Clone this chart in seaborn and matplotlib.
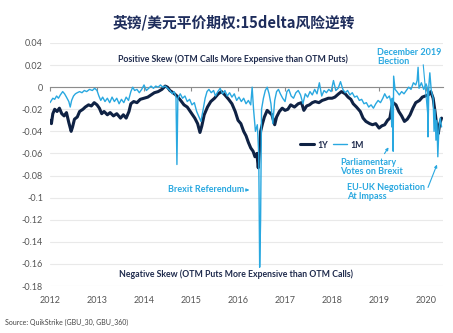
import matplotlib
matplotlib.use("Agg")
import matplotlib.pyplot as plt
import seaborn as sns
import pandas as pd

# ---------------- data (decimal year -> 15-delta risk reversal) ----------------
year_1y = [2012.00, 2012.03, 2012.06, 2012.10, 2012.15, 2012.20, 2012.25, 2012.30, 2012.35, 2012.40,
           2012.45, 2012.48, 2012.52, 2012.58, 2012.63, 2012.70, 2012.75, 2012.82, 2012.88, 2012.94,
           2013.00, 2013.05, 2013.10, 2013.15, 2013.22, 2013.28, 2013.35, 2013.42, 2013.50, 2013.56,
           2013.62, 2013.68, 2013.72, 2013.78, 2013.85, 2013.92, 2014.00, 2014.08, 2014.15, 2014.22,
           2014.30, 2014.38, 2014.45, 2014.50, 2014.55, 2014.62, 2014.70, 2014.78, 2014.85, 2014.92,
           2015.00, 2015.08, 2015.14, 2015.19, 2015.23, 2015.28, 2015.35, 2015.42, 2015.50, 2015.58,
           2015.65, 2015.72, 2015.80, 2015.87, 2015.94, 2016.00, 2016.06, 2016.12, 2016.17, 2016.22,
           2016.27, 2016.32, 2016.36, 2016.40, 2016.43, 2016.46, 2016.48, 2016.52, 2016.56, 2016.62,
           2016.67, 2016.72, 2016.78, 2016.82, 2016.88, 2016.94, 2017.00, 2017.06, 2017.12, 2017.20,
           2017.28, 2017.35, 2017.40, 2017.46, 2017.52, 2017.58, 2017.64, 2017.72, 2017.79, 2017.86,
           2017.92, 2018.00, 2018.06, 2018.14, 2018.20, 2018.28, 2018.34, 2018.40, 2018.45, 2018.52,
           2018.60, 2018.66, 2018.72, 2018.80, 2018.86, 2018.93, 2019.00, 2019.06, 2019.12, 2019.18,
           2019.23, 2019.27, 2019.30, 2019.36, 2019.42, 2019.48, 2019.54, 2019.60, 2019.66, 2019.72,
           2019.78, 2019.86, 2019.92, 2019.98, 2020.05, 2020.10, 2020.15, 2020.19, 2020.23, 2020.26,
           2020.29, 2020.33]
rr_1y = [-0.030, -0.033, -0.024, -0.020, -0.022, -0.019, -0.024, -0.026, -0.023, -0.032,
         -0.040, -0.036, -0.029, -0.027, -0.022, -0.020, -0.018, -0.016, -0.017, -0.014,
         -0.016, -0.019, -0.024, -0.022, -0.025, -0.023, -0.026, -0.024, -0.028, -0.025,
         -0.028, -0.022, -0.015, -0.013, -0.014, -0.011, -0.010, -0.009, -0.007, -0.005,
         -0.004, -0.002, 0.001, 0.000, -0.003, -0.005, -0.008, -0.012, -0.016, -0.018,
         -0.023, -0.028, -0.033, -0.041, -0.035, -0.025, -0.018, -0.013, -0.010, -0.006,
         -0.004, -0.007, -0.011, -0.015, -0.022, -0.030, -0.033, -0.040, -0.044, -0.050,
         -0.055, -0.058, -0.063, -0.060, -0.073, -0.055, -0.040, -0.033, -0.027, -0.021,
         -0.023, -0.025, -0.034, -0.027, -0.022, -0.019, -0.021, -0.020, -0.016, -0.018,
         -0.015, -0.014, -0.021, -0.017, -0.016, -0.014, -0.013, -0.014, -0.012, -0.011,
         -0.010, -0.010, -0.009, -0.006, -0.004, -0.006, -0.009, -0.011, -0.015, -0.018,
         -0.022, -0.028, -0.031, -0.033, -0.034, -0.033, -0.037, -0.035, -0.034, -0.030,
         -0.028, -0.018, -0.014, -0.016, -0.022, -0.026, -0.031, -0.029, -0.025, -0.019,
         -0.014, -0.012, -0.009, -0.008, -0.007, -0.004, -0.010, -0.022, -0.036, -0.042,
         -0.033, -0.028]

year_1m = [2012.00, 2012.03, 2012.06, 2012.10, 2012.14, 2012.18, 2012.22, 2012.27, 2012.31, 2012.35,
           2012.40, 2012.43, 2012.46, 2012.50, 2012.54, 2012.58, 2012.63, 2012.68, 2012.73, 2012.78,
           2012.84, 2012.90, 2012.95, 2013.00, 2013.04, 2013.08, 2013.12, 2013.17, 2013.22, 2013.27,
           2013.32, 2013.37, 2013.42, 2013.47, 2013.52, 2013.57, 2013.62, 2013.67, 2013.72, 2013.76,
           2013.80, 2013.85, 2013.90, 2013.95, 2014.00, 2014.05, 2014.10, 2014.15, 2014.20, 2014.25,
           2014.30, 2014.35, 2014.40, 2014.45, 2014.50, 2014.55, 2014.60, 2014.64, 2014.68, 2014.70,
           2014.72, 2014.77, 2014.82, 2014.87, 2014.92, 2014.97, 2015.02, 2015.07, 2015.12, 2015.17,
           2015.21, 2015.25, 2015.30, 2015.34, 2015.38, 2015.43, 2015.48, 2015.52, 2015.57, 2015.62,
           2015.67, 2015.72, 2015.77, 2015.82, 2015.87, 2015.92, 2015.97, 2016.02, 2016.07, 2016.12,
           2016.17, 2016.22, 2016.27, 2016.30, 2016.33, 2016.37, 2016.41, 2016.44, 2016.46, 2016.48,
           2016.50, 2016.54, 2016.58, 2016.62, 2016.66, 2016.70, 2016.74, 2016.78, 2016.82, 2016.86,
           2016.90, 2016.95, 2017.00, 2017.04, 2017.08, 2017.13, 2017.18, 2017.23, 2017.28, 2017.33,
           2017.38, 2017.43, 2017.48, 2017.53, 2017.58, 2017.63, 2017.68, 2017.73, 2017.78, 2017.83,
           2017.88, 2017.93, 2017.98, 2018.03, 2018.08, 2018.13, 2018.18, 2018.23, 2018.28, 2018.33,
           2018.38, 2018.43, 2018.48, 2018.53, 2018.58, 2018.63, 2018.68, 2018.73, 2018.78, 2018.83,
           2018.88, 2018.93, 2018.98, 2019.03, 2019.08, 2019.12, 2019.17, 2019.22, 2019.25, 2019.27,
           2019.28, 2019.30, 2019.31, 2019.34, 2019.38, 2019.43, 2019.48, 2019.53, 2019.58, 2019.63,
           2019.68, 2019.73, 2019.78, 2019.81, 2019.83, 2019.85, 2019.90, 2019.95, 2020.00, 2020.03,
           2020.04, 2020.06, 2020.08, 2020.11, 2020.15, 2020.17, 2020.19, 2020.21, 2020.23, 2020.25,
           2020.27, 2020.30, 2020.33]
rr_1m = [-0.014, -0.012, -0.010, -0.011, -0.008, -0.010, -0.007, -0.004, -0.006, -0.009,
         -0.013, -0.018, -0.012, -0.008, -0.006, -0.005, -0.004, -0.005, -0.003, -0.004,
         -0.002, -0.003, -0.001, -0.003, -0.008, -0.012, -0.009, -0.013, -0.010, -0.014,
         -0.009, -0.013, -0.010, -0.015, -0.011, -0.014, -0.009, -0.012, -0.004, 0.000,
         -0.003, -0.002, -0.005, -0.002, 0.002, -0.003, -0.001, 0.001, -0.001, 0.001,
         0.000, 0.002, 0.000, 0.001, -0.001, -0.003, -0.006, -0.004, -0.009, -0.070,
         -0.010, -0.006, -0.010, -0.008, -0.013, -0.011, -0.016, -0.014, -0.022, -0.027,
         -0.031, -0.022, -0.010, -0.004, -0.002, -0.005, -0.003, -0.008, -0.004, -0.001,
         -0.006, -0.003, -0.008, -0.005, -0.009, -0.006, -0.012, -0.009, -0.013, -0.010,
         -0.015, -0.012, -0.016, 0.000, -0.020, -0.040, -0.034, -0.060, -0.163, -0.120,
         -0.020, -0.010, -0.003, 0.000, -0.006, -0.015, -0.033, -0.012, -0.004, -0.002,
         -0.006, -0.010, -0.013, -0.004, -0.002, -0.008, -0.010, -0.005, -0.003, -0.007,
         -0.015, -0.006, -0.009, -0.004, -0.007, -0.002, -0.006, 0.004, -0.008, -0.003,
         -0.005, -0.002, -0.004, 0.006, -0.003, -0.001, 0.005, -0.002, -0.005, -0.003,
         -0.007, -0.005, -0.009, -0.008, -0.012, -0.011, -0.015, -0.014, -0.018, -0.016,
         -0.019, -0.015, -0.012, -0.014, -0.010, -0.006, -0.010, -0.008, -0.013, -0.036,
         -0.010, -0.058, 0.010, -0.002, -0.004, -0.007, -0.004, -0.006, -0.003, 0.000,
         -0.002, 0.004, 0.002, 0.006, 0.018, -0.001, 0.004, -0.002, 0.003, -0.001,
         -0.045, 0.002, 0.013, -0.003, -0.010, -0.040, -0.020, -0.048, -0.030, -0.063,
         -0.040, -0.028, -0.036]

series_names = ["1Y", "1M"]
year_ticks = [2012, 2013, 2014, 2015, 2016, 2017, 2018, 2019, 2020]
y_ticks = [0.04, 0.02, 0, -0.02, -0.04, -0.06, -0.08, -0.1, -0.12, -0.14, -0.16, -0.18]

title = "英镑/美元平价期权:15delta风险逆转"
source = "Source: QuikStrike (GBU_30, GBU_360)"

df = pd.concat([
    pd.DataFrame({"year": year_1y, "rr": rr_1y, "tenor": series_names[0]}),
    pd.DataFrame({"year": year_1m, "rr": rr_1m, "tenor": series_names[1]}),
], ignore_index=True)

# ---------------- style ----------------
sns.set_theme(style="white")
plt.rcParams["font.family"] = ["Lato", "DejaVu Sans"]
plt.rcParams["axes.unicode_minus"] = False

NAVY = "#0f2244"
BLUE = "#29a8e0"
TXT = "#1f2b4d"

fig = plt.figure(figsize=(4.53, 3.33), dpi=100)
ax = fig.add_axes([50 / 453, 1 - 286 / 333, 393 / 453, 243 / 333])

sns.lineplot(data=df, x="year", y="rr", hue="tenor", palette={"1Y": NAVY, "1M": BLUE},
             size="tenor", sizes={"1Y": 2.2, "1M": 1.0}, ax=ax, legend=True, estimator=None,
             sort=False)

ax.set_xlim(2012.0, 2020.36)
ax.set_ylim(-0.18, 0.04)
ax.set_xlabel("")
ax.set_ylabel("")
for s in ax.spines.values():
    s.set_visible(False)
ax.set_yticks(y_ticks)
ax.set_yticklabels([f"{v:g}" for v in y_ticks])
ax.set_xticks(year_ticks)
ax.set_xticklabels([str(y) for y in year_ticks])
ax.tick_params(axis="both", length=0, labelsize=6.5, labelcolor="#555555")
ax.tick_params(axis="y", pad=5)
ax.tick_params(axis="x", pad=7)
ax.grid(axis="y", color="#e9e9e9", lw=0.8)
ax.grid(axis="x", visible=False)
ax.set_axisbelow(True)

# zero line with small year ticks
zero_frac = (0 - (-0.18)) / (0.04 - (-0.18))
sec = ax.secondary_xaxis(zero_frac)
sec.set_xticks(year_ticks)
sec.set_xticklabels([""] * len(year_ticks))
sec.xaxis.set_ticks_position("bottom")
sec.tick_params(axis="x", direction="out", length=3, width=0.8, color="#8c8c8c",
                labelbottom=False, labeltop=False, top=False, bottom=True)
for k, s in sec.spines.items():
    s.set_visible(k == "bottom")
sec.spines["bottom"].set_color("#8c8c8c")
sec.spines["bottom"].set_linewidth(0.8)
sec.set_zorder(0.5)

# legend
handles, labels = ax.get_legend_handles_labels()
hl = [(h, l) for h, l in zip(handles, labels) if l in series_names]
leg = ax.legend([h for h, _ in hl], [l for _, l in hl], loc="center",
                bbox_to_anchor=((332 - 50) / 393, (286 - 145) / 243), ncol=2, frameon=False,
                handlelength=1.6, handletextpad=0.4, columnspacing=0.6, fontsize=6.3)
for t in leg.get_texts():
    t.set_color(TXT)
    t.set_fontweight("bold")

def fx(px):
    return (px - 50) / 393

def fy(py):
    return (286 - py) / 243

# annotations
ax.text(fx(233), fy(59), "Positive Skew (OTM Calls More Expensive than OTM Puts)",
        transform=ax.transAxes, ha="center", va="center", fontsize=6.3, color=TXT, fontweight="bold")
ax.text(fx(236), fy(274), "Negative Skew (OTM Puts More Expensive than OTM Calls)",
        transform=ax.transAxes, ha="center", va="center", fontsize=6.3, color=TXT, fontweight="bold")
ax.text(fx(377), fy(57), "December 2019\nElection", transform=ax.transAxes, ha="left", va="center",
        fontsize=6.5, color=BLUE, fontweight="bold", linespacing=1.1)
ax.text(fx(340), fy(167), "Parliamentary\nVotes on Brexit", transform=ax.transAxes, ha="left",
        va="center", fontsize=6.5, color=BLUE, fontweight="bold", linespacing=1.1)
ax.text(fx(347), fy(192), "EU-UK Negotiation\nAt Impass", transform=ax.transAxes, ha="left",
        va="center", fontsize=6.5, color=BLUE, fontweight="bold", linespacing=1.1)
ax.text(fx(168), fy(190), "Brexit Referendum", transform=ax.transAxes, ha="left",
        va="center", fontsize=6.5, color=BLUE, fontweight="bold")
ax.annotate("", xy=(fx(252), fy(190)), xytext=(fx(244), fy(190)), xycoords="axes fraction",
            arrowprops=dict(arrowstyle="-|>", color=BLUE, lw=0.8, mutation_scale=4))
ax.annotate("", xy=(fx(390), fy(145)), xytext=(fx(383), fy(156)), xycoords="axes fraction",
            arrowprops=dict(arrowstyle="-|>", color=BLUE, lw=0.8, mutation_scale=4))
ax.annotate("", xy=(fx(438), fy(162)), xytext=(fx(427), fy(190)), xycoords="axes fraction",
            arrowprops=dict(arrowstyle="-|>", color=BLUE, lw=0.8, mutation_scale=4))
ax.annotate("", xy=(fx(428), fy(118)), xytext=(fx(423), fy(62)), xycoords="axes fraction",
            arrowprops=dict(arrowstyle="-", color=BLUE, lw=0.8))

fig.text(234 / 453, 1 - 22 / 333, title, ha="center", va="center", fontsize=10.6,
         fontweight="bold", color="#1e2d5c", family=["Noto Sans CJK SC", "DejaVu Sans"])
fig.text(5 / 453, 1 - 322 / 333, source, ha="left", va="center", fontsize=5, color="#444444")

fig.savefig("out.png", dpi=100)
